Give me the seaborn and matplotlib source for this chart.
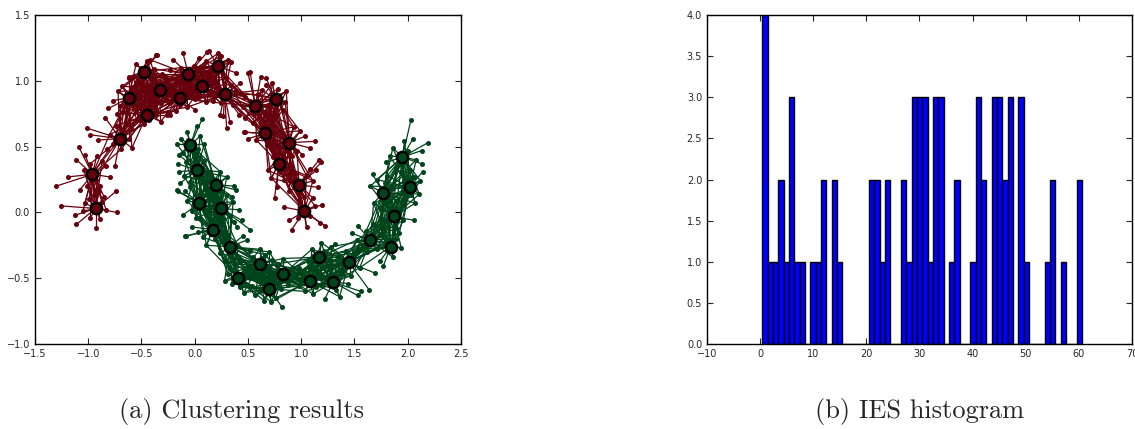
import numpy as np
import pandas as pd
import matplotlib
matplotlib.use("Agg")
import matplotlib.pyplot as plt
from matplotlib.collections import LineCollection
import seaborn as sns

# ==========================================
# data
# ==========================================
# cluster centres (black ringed circles), upper (red) moon
RED_CENTERS = [(-0.93, 0.03), (-0.96, 0.29), (-0.70, 0.56), (-0.62, 0.87), (-0.45, 0.74),
               (-0.48, 1.07), (-0.33, 0.93), (-0.14, 0.87), (-0.06, 1.05), (0.07, 0.96),
               (0.22, 1.11), (0.28, 0.90), (0.57, 0.81), (0.76, 0.86), (0.66, 0.60),
               (0.89, 0.53), (0.79, 0.37), (0.98, 0.21), (1.03, 0.01)]
# member points of each red centre, as offsets from that centre
RED_OFFSETS = [
    [(-0.33, 0.02), (-0.19, -0.05), (-0.18, -0.12), (-0.10, 0.04), (-0.05, -0.07), (0.00, -0.15),
     (0.06, 0.05), (0.10, -0.01), (0.20, -0.03), (0.19, 0.13), (-0.12, -0.02), (0.04, -0.08),
     (-0.02, 0.10), (0.03, 0.13), (-0.06, 0.07), (0.08, 0.09)],
    [(-0.34, -0.09), (-0.23, -0.02), (-0.15, 0.11), (-0.07, 0.15), (0.04, 0.14), (0.13, 0.06),
     (0.16, -0.02), (-0.12, -0.12), (0.07, -0.09), (-0.13, 0.21), (-0.02, 0.08), (0.03, -0.04),
     (0.02, -0.12), (-0.05, -0.09), (0.09, 0.10), (-0.08, 0.03)],
    [(-0.31, 0.08), (-0.28, 0.03), (-0.21, -0.01), (-0.05, -0.21), (0.11, -0.07), (-0.12, -0.08),
     (-0.14, 0.16), (0.08, 0.00), (-0.10, 0.03), (0.03, 0.07), (0.06, 0.12), (-0.04, 0.10),
     (0.01, -0.08), (-0.07, -0.04), (0.10, 0.08)],
    [(-0.10, 0.05), (-0.19, -0.08), (0.00, 0.15), (-0.15, -0.02), (-0.08, -0.06), (0.08, -0.08),
     (0.11, 0.04), (0.04, 0.08), (-0.05, -0.11), (0.02, -0.04), (-0.06, 0.09), (0.06, 0.02),
     (-0.11, -0.12)],
    [(-0.03, -0.07), (-0.09, -0.04), (0.09, 0.00), (0.19, 0.00), (-0.06, -0.04), (0.20, 0.02),
     (0.09, 0.04), (0.05, 0.10), (-0.08, 0.06), (0.02, -0.04), (0.13, -0.05), (-0.02, 0.05)],
    [(0.03, 0.08), (0.12, 0.13), (-0.14, -0.04), (-0.07, 0.06), (0.13, 0.13), (0.06, 0.09),
     (-0.10, -0.04), (0.08, -0.05), (-0.04, -0.09), (0.10, 0.02), (-0.02, 0.03), (0.05, -0.11)],
    [(-0.06, 0.06), (0.05, -0.05), (0.08, 0.08), (-0.04, -0.09), (0.12, -0.02), (-0.10, 0.02),
     (0.02, 0.12), (0.15, 0.05), (-0.08, -0.04), (0.03, 0.04), (0.09, -0.10), (-0.02, -0.02)],
    [(-0.09, -0.13), (0.14, -0.09), (0.07, -0.07), (-0.18, -0.04), (0.00, -0.05), (-0.05, 0.08),
     (0.05, 0.05), (-0.12, 0.04), (0.10, 0.02), (-0.04, -0.10), (0.03, 0.11), (-0.08, -0.03)],
    [(-0.05, 0.16), (-0.14, 0.11), (0.10, 0.12), (0.18, 0.17), (0.05, 0.06), (-0.17, 0.03),
     (-0.03, -0.06), (0.08, -0.03), (-0.09, -0.05), (0.02, -0.11), (-0.07, 0.05), (0.12, 0.05)],
    [(0.05, 0.07), (-0.06, 0.05), (0.08, -0.06), (-0.03, -0.08), (0.12, 0.02), (0.00, 0.10),
     (-0.10, -0.02), (0.04, -0.12), (-0.07, -0.10), (0.10, -0.11), (0.02, 0.02), (-0.04, 0.12)],
    [(0.09, 0.05), (-0.09, 0.12), (0.00, 0.10), (0.17, -0.05), (0.03, 0.08), (-0.07, -0.03),
     (0.12, 0.03), (-0.03, -0.10), (0.07, -0.09), (-0.11, 0.04), (0.04, -0.04)],
    [(0.05, -0.21), (0.02, -0.26), (-0.04, -0.16), (0.14, -0.16), (0.11, 0.02), (-0.10, -0.02),
     (0.19, -0.02), (-0.01, -0.17), (0.06, 0.07), (-0.06, 0.05), (0.08, -0.08), (-0.03, -0.07),
     (0.15, 0.08)],
    [(-0.07, 0.25), (0.05, 0.22), (-0.14, 0.10), (-0.10, -0.09), (0.05, -0.13), (0.11, 0.00),
     (-0.12, -0.01), (-0.05, 0.26), (0.02, 0.09), (-0.05, 0.04), (0.06, 0.12), (-0.02, -0.06),
     (0.08, -0.05)],
    [(0.02, 0.08), (-0.09, 0.11), (0.10, 0.06), (0.07, -0.08), (-0.03, 0.12), (-0.09, 0.16),
     (0.04, -0.03), (-0.06, -0.05), (0.00, -0.13), (-0.04, 0.04), (0.09, -0.02)],
    [(-0.19, 0.01), (-0.16, -0.04), (-0.08, -0.05), (-0.11, 0.08), (0.08, 0.05), (0.02, -0.09),
     (-0.20, 0.01), (0.05, -0.04), (-0.04, 0.09), (0.09, -0.08), (-0.02, 0.02), (0.06, 0.13)],
    [(0.24, 0.01), (0.15, 0.05), (0.10, 0.09), (0.19, -0.04), (0.04, 0.12), (-0.09, -0.04),
     (0.07, -0.06), (-0.05, 0.06), (0.02, -0.10), (-0.08, 0.10), (0.12, -0.09)],
    [(-0.04, -0.26), (-0.10, -0.05), (0.11, -0.02), (0.05, 0.05), (-0.05, 0.05), (0.05, -0.12),
     (-0.02, -0.18), (-0.07, -0.11), (0.08, 0.10), (0.01, -0.06), (-0.06, 0.12), (0.10, -0.08)],
    [(0.19, 0.19), (0.21, 0.17), (0.16, 0.11), (0.18, -0.02), (0.13, 0.03), (-0.09, -0.05),
     (0.07, 0.07), (-0.04, 0.08), (0.00, -0.07), (-0.07, 0.03), (0.05, -0.09), (0.10, 0.12)],
    [(0.19, -0.11), (0.15, -0.09), (0.17, 0.05), (-0.14, -0.07), (-0.12, -0.14), (-0.19, 0.03),
     (0.05, -0.04), (-0.06, -0.05), (0.10, 0.04), (0.02, -0.12), (-0.04, 0.08), (0.08, 0.10)],
]

# cluster centres, lower (green) moon
GREEN_CENTERS = [(-0.04, 0.51), (0.02, 0.32), (0.20, 0.21), (0.04, 0.07), (0.25, 0.03),
                 (0.17, -0.13), (0.33, -0.26), (0.41, -0.50), (0.61, -0.39), (0.70, -0.58),
                 (0.83, -0.47), (1.08, -0.52), (1.17, -0.34), (1.30, -0.53), (1.45, -0.38),
                 (1.65, -0.21), (1.84, -0.26), (1.87, -0.03), (1.77, 0.15), (2.02, 0.19),
                 (1.95, 0.42)]
GREEN_OFFSETS = [
    [(0.11, 0.20), (0.06, 0.15), (-0.13, 0.01), (-0.11, -0.07), (-0.03, 0.10), (0.07, -0.03),
     (-0.07, -0.06), (0.13, 0.01), (0.03, -0.09), (-0.02, 0.04), (0.09, 0.07), (-0.09, 0.05)],
    [(-0.17, -0.01), (-0.18, 0.05), (-0.16, -0.10), (0.12, -0.01), (-0.06, -0.09), (-0.10, 0.06),
     (0.07, 0.07), (0.03, -0.05), (0.09, -0.09), (-0.03, 0.10), (0.05, 0.02), (-0.12, -0.04)],
    [(0.19, -0.04), (0.17, -0.01), (0.15, -0.09), (0.00, 0.04), (-0.08, -0.05), (0.06, -0.05),
     (-0.05, 0.06), (0.10, 0.06), (-0.02, -0.10), (0.04, 0.10), (-0.10, 0.02)],
    [(-0.15, -0.09), (-0.20, 0.09), (-0.11, 0.02), (-0.07, -0.06), (0.07, -0.08), (0.10, 0.04),
     (-0.21, 0.10), (-0.13, 0.09), (0.02, 0.08), (-0.03, -0.11), (0.05, -0.02), (-0.08, 0.12)],
    [(0.27, -0.16), (0.19, -0.09), (0.17, -0.01), (0.11, 0.05), (0.08, -0.06), (0.15, -0.14),
     (-0.04, 0.06), (0.02, -0.08), (-0.06, -0.04), (0.05, 0.10), (0.12, -0.10)],
    [(-0.25, -0.05), (-0.20, 0.02), (-0.09, -0.06), (-0.03, 0.05), (0.09, -0.03), (-0.12, 0.09),
     (-0.26, -0.05), (0.05, 0.08), (-0.06, -0.12), (0.02, -0.07), (-0.14, -0.02), (0.10, 0.04)],
    [(0.07, 0.01), (-0.09, -0.05), (0.16, 0.05), (0.04, -0.09), (0.19, -0.03), (-0.07, 0.04),
     (0.10, -0.12), (-0.02, 0.09), (0.02, -0.04), (-0.05, -0.11), (0.12, 0.08)],
    [(-0.06, -0.04), (-0.13, -0.02), (0.02, -0.07), (0.13, -0.06), (-0.08, 0.07), (0.09, 0.01),
     (0.02, -0.06), (-0.03, 0.11), (0.06, 0.08), (-0.10, 0.03), (0.05, -0.11)],
    [(0.05, 0.07), (-0.06, 0.05), (0.08, -0.05), (-0.04, -0.07), (0.00, 0.11), (0.12, 0.03),
     (-0.10, -0.03), (0.03, -0.11), (-0.08, -0.10), (0.09, 0.09), (-0.02, 0.02)],
    [(0.12, -0.14), (0.06, -0.07), (-0.13, -0.05), (-0.09, -0.02), (0.02, -0.10), (-0.01, 0.05),
     (0.08, 0.04), (-0.05, -0.09), (0.04, 0.09), (-0.07, 0.07)],
    [(0.05, -0.08), (0.09, 0.05), (-0.05, 0.08), (0.12, -0.02), (-0.08, -0.06), (0.00, 0.12),
     (0.15, 0.05), (-0.02, -0.11), (0.06, -0.04), (-0.10, 0.02)],
    [(0.03, -0.10), (-0.06, 0.06), (0.08, 0.04), (-0.10, -0.04), (0.06, -0.05), (0.00, 0.10),
     (-0.04, -0.08), (0.11, -0.03), (0.04, 0.07)],
    [(0.15, 0.10), (0.11, 0.08), (-0.07, 0.06), (0.04, 0.05), (-0.11, -0.03), (0.07, -0.07),
     (-0.03, -0.10), (0.02, 0.11), (-0.06, 0.01), (0.10, -0.02)],
    [(0.26, -0.07), (0.23, -0.10), (0.14, -0.01), (0.06, -0.11), (-0.08, -0.13), (0.03, -0.06),
     (-0.05, 0.04), (0.08, 0.06), (-0.02, 0.10), (-0.10, -0.02)],
    [(0.19, -0.21), (0.24, -0.08), (-0.03, 0.09), (-0.10, 0.04), (0.10, -0.04), (0.05, 0.07),
     (-0.06, -0.06), (0.02, -0.10), (0.09, 0.10), (-0.12, -0.02)],
    [(-0.12, 0.11), (-0.17, 0.05), (-0.13, 0.00), (-0.04, 0.07), (0.08, 0.04), (0.06, -0.07),
     (-0.03, -0.09), (0.02, 0.12), (-0.07, -0.04), (0.10, 0.09)],
    [(-0.07, -0.15), (-0.10, -0.11), (0.10, -0.01), (0.05, 0.06), (-0.05, 0.03), (0.02, -0.08),
     (0.08, 0.10), (-0.08, 0.09)],
    [(0.19, -0.03), (0.09, -0.03), (-0.06, -0.03), (0.05, 0.05), (-0.05, 0.05), (0.02, -0.09),
     (0.10, 0.09), (-0.08, 0.10), (0.03, 0.12)],
    [(-0.12, 0.05), (-0.09, -0.08), (-0.06, 0.10), (0.05, -0.06), (0.02, 0.07), (-0.03, -0.12),
     (0.08, 0.03), (-0.10, 0.14), (0.04, 0.13)],
    [(0.12, 0.12), (0.10, 0.05), (0.09, -0.05), (0.05, -0.12), (-0.06, -0.09), (0.04, 0.08),
     (-0.05, 0.05), (0.01, -0.06), (-0.08, 0.12)],
    [(0.08, 0.28), (0.10, 0.14), (0.02, 0.12), (0.24, 0.11), (0.18, 0.05), (0.18, -0.05),
     (-0.12, 0.01), (-0.15, -0.04), (-0.09, 0.07), (0.13, -0.02), (-0.06, -0.08), (0.05, 0.05),
     (-0.02, -0.05), (0.07, -0.10)],
]

# IES histogram: 60 equal bins between these limits
HIST_LOW, HIST_HIGH = 0.44, 60.62
HIST_COUNTS = [4, 1, 1, 2, 1, 3, 1, 1, 0, 1,
               1, 2, 0, 2, 1, 0, 0, 0, 0, 0,
               2, 2, 1, 2, 0, 0, 2, 1, 3, 3,
               3, 1, 3, 3, 0, 1, 2, 0, 0, 1,
               3, 2, 0, 3, 3, 2, 3, 0, 3, 1,
               0, 0, 0, 1, 2, 0, 1, 0, 0, 2]

CAPTIONS = ["(a) Clustering results", "(b) IES histogram"]
RED = "#67000d"
GREEN = "#00441b"

# ==========================================
# style
# ==========================================
sns.set_style("ticks")
plt.rcParams.update({
    "xtick.direction": "in", "ytick.direction": "in",
    "xtick.top": True, "ytick.right": True,
    "xtick.major.size": 4, "ytick.major.size": 4,
    "xtick.labelsize": 7, "ytick.labelsize": 7,
    "axes.linewidth": 1.0, "axes.edgecolor": "black",
})
plt.rcParams["font.family"] = ["DejaVu Sans"]

fig = plt.figure(figsize=(11.35, 4.29), dpi=100)
ax1 = fig.add_axes([0.0308, 0.198, 0.3753, 0.767])
ax2 = fig.add_axes([0.6229, 0.198, 0.3744, 0.767])


def draw_moon(ax, centers, offsets, color, core=0.14, reach=0.40):
    ctr = np.array(centers)
    pts, segs = [], []
    for i, (c, offs) in enumerate(zip(ctr, offsets)):
        for dx, dy in offs:
            p = np.array([c[0] + dx, c[1] + dy])
            pts.append(p)
            d = np.hypot(*(ctr - p).T)
            # outlying points tie only to their own centre,
            # points in the core also tie to neighbouring centres
            near = (d < reach) if np.hypot(dx, dy) < core else np.zeros(len(ctr), bool)
            near[i] = True
            for j in np.where(near)[0]:
                segs.append([p, ctr[j]])
    ax.add_collection(LineCollection(segs, colors=color, linewidths=0.9, zorder=1))
    pts = pd.DataFrame(pts, columns=["x", "y"])
    sns.scatterplot(data=pts, x="x", y="y", color=color, s=13, linewidth=0, ax=ax, zorder=2)
    cdf = pd.DataFrame(ctr, columns=["x", "y"])
    sns.scatterplot(data=cdf, x="x", y="y", color=color, s=65, edgecolor="black",
                    linewidth=1.8, ax=ax, zorder=3)


draw_moon(ax1, RED_CENTERS, RED_OFFSETS, RED)
draw_moon(ax1, GREEN_CENTERS, GREEN_OFFSETS, GREEN)
ax1.set_xlim(-1.5, 2.5)
ax1.set_ylim(-1.0, 1.5)
ax1.set_xticks(np.arange(-1.5, 2.51, 0.5))
ax1.set_yticks(np.arange(-1.0, 1.51, 0.5))
ax1.set_xlabel("")
ax1.set_ylabel("")

# histogram
edges = np.linspace(HIST_LOW, HIST_HIGH, len(HIST_COUNTS) + 1)
hist_df = pd.DataFrame({"ies": (edges[:-1] + edges[1:]) / 2, "count": HIST_COUNTS})
sns.histplot(data=hist_df, x="ies", weights="count", bins=len(HIST_COUNTS),
             binrange=(HIST_LOW, HIST_HIGH), color="#0000ff", alpha=1,
             edgecolor="black", linewidth=1.0, ax=ax2)
ax2.set_xlim(-10, 70)
ax2.set_ylim(0, 4)
ax2.set_xticks(np.arange(-10, 71, 10))
ax2.set_yticks(np.arange(0, 4.01, 0.5))
ax2.set_yticklabels([f"{v:.1f}" for v in np.arange(0, 4.01, 0.5)])
ax2.set_xlabel("")
ax2.set_ylabel("")

fig.text(0.2125, 0.04, CAPTIONS[0], ha="center", va="center", fontsize=19, family="cmr10")
fig.text(0.81, 0.04, CAPTIONS[1], ha="center", va="center", fontsize=19, family="cmr10")

fig.savefig("out.png", dpi=100)
